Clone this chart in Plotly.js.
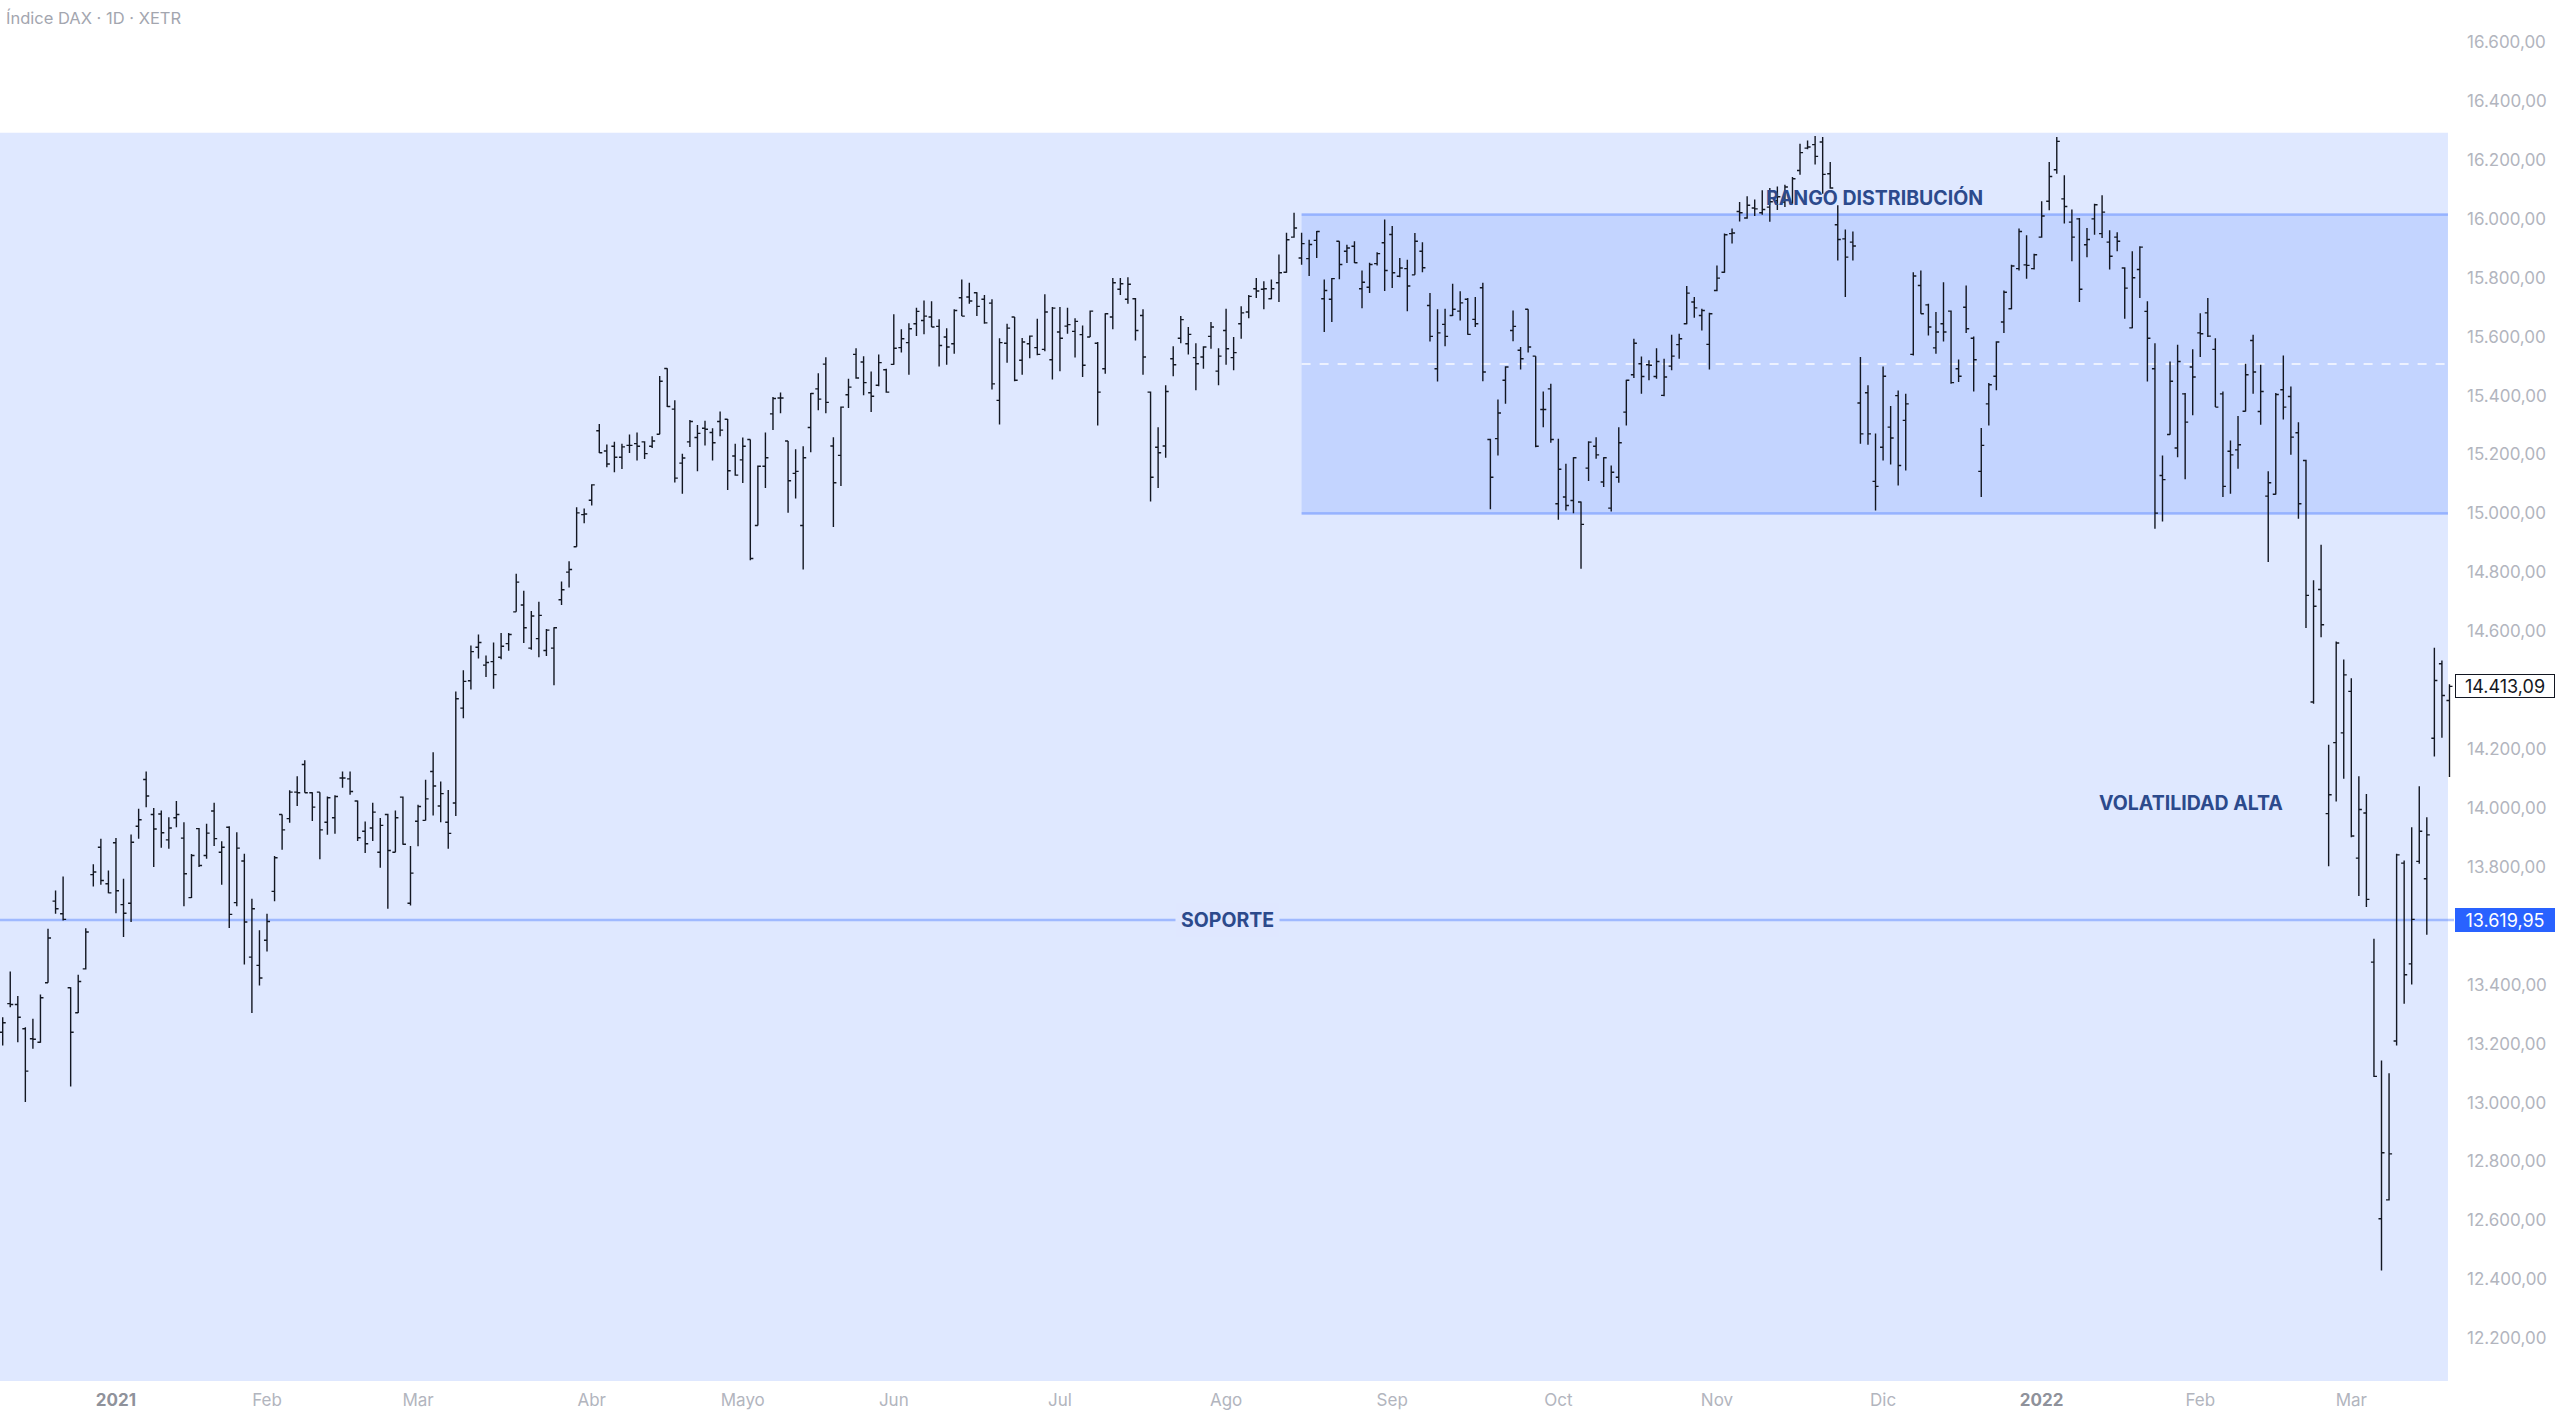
<!DOCTYPE html>
<html lang="es">
<head>
<meta charset="utf-8">
<title>Índice DAX · 1D · XETR</title>
<script src="https://cdn.plot.ly/plotly-3.0.1.min.js"></script>
<style>
  html, body { margin: 0; padding: 0; background: #ffffff; }
  #chart { width: 2560px; height: 1415px; }
</style>
</head>
<body>
<div id="chart"></div>
<script>
// XETRA closed days inside the window (weekends are skipped anyway)
const closedDays = ['2020-12-24', '2020-12-25', '2020-12-31', '2021-01-01', '2021-04-02',
  '2021-04-05', '2021-05-24', '2021-12-24', '2021-12-31'];
const firstDay = '2020-12-08';
const lastDay = '2022-03-18';

// OHLC, one row per month (Dec 2020 ... Mar 2022)
const open = [
  13239, 13336, 13333, 13251, 13217, 13205, 13407, 13684, 13641, 13390, 13305, 13454, 13774, 13867, 13743,
  13882, 13672, 13677, 13938, 14097, 13978, 13980, 13892, 13967, 13898, 13696, 13930, 13839, 13990, 13850, 13935, 13679, 13820, 13494, 13466,
  13551, 13717, 13978, 13964, 14054, 14148, 14052, 14054, 13952, 13967, 14102, 14099, 14024, 13921, 13932, 13850, 13978, 13850, 14037, 13677,
  13955, 13958, 14124, 14007, 13952, 14017, 14339, 14432, 14546, 14485, 14497, 14512, 14558, 14666, 14689, 14543, 14575, 14535, 14543, 14707, 14801, 14887, 14996,
  15045, 15281, 15212, 15228, 15191, 15231, 15237, 15243, 15228, 15269, 15492, 15354, 15171, 15243, 15258, 15289, 15275, 15312, 15320, 15195,
  15182, 15251, 14959, 15160, 15338, 15392, 15246, 15136, 14959, 15292, 15423, 15507, 15229, 15197, 15403, 15540, 15514, 15410, 15435, 15488,
  15506, 15563, 15580, 15644, 15655, 15667, 15635, 15599, 15576, 15732, 15735, 15749, 15727, 15714, 15384, 15578, 15667, 15520, 15576, 15563, 15557, 15522,
  15616, 15636, 15618, 15607, 15599, 15578, 15491, 15667, 15761, 15727, 15729, 15672, 15412, 15225, 15229, 15525, 15595, 15576, 15529, 15531, 15601, 15483,
  15621, 15529, 15644, 15684, 15763, 15761, 15729, 15783, 15819, 15938, 15867, 15865, 15927, 15729, 15727, 15924, 15890, 15907, 15763, 15768, 15848, 15919,
  15947, 15805, 15831, 15810, 15890, 15706, 15491, 15642, 15672, 15687, 15727, 15659, 15766, 15251, 15254, 15452, 15621, 15554, 15693, 15534, 15353, 15423,
  15033, 15056, 15044, 15039, 15154, 15228, 15107, 15018, 15123, 15344, 15471, 15508, 15505, 15465, 15401, 15500, 15573, 15644, 15718, 15672, 15574,
  15757, 15819, 15950, 16025, 16003, 16037, 16021, 16040, 16062, 16057, 16054, 16164, 16240, 16252, 16261, 16153, 15980, 15932, 15921, 15375, 15410, 15109,
  15225, 15293, 15400, 15316, 15540, 15774, 15708, 15562, 15644, 15687, 15491, 15700, 15595, 15143, 15372, 15466, 15650, 15695, 15831, 15844, 15831,
  15938, 16060, 16167, 16068, 15989, 16000, 15912, 16000, 15950, 15921, 15938, 15833, 15630, 15828, 15686, 15491, 15129, 15268, 15222, 15406, 15497,
  15613, 15681, 15557, 15406, 15211, 15216, 15347, 15587, 15346, 15059, 15065, 15420, 15397, 15274, 15180, 14360, 14742, 13981, 14222, 14255,
  14396, 13830, 13983, 13477, 12606, 12670, 13209, 13813, 13471, 13819, 13760, 14237, 14490, 14365
];
const high = [
  13290, 13445, 13362, 13256, 13285, 13367, 13590, 13720, 13768, 13392, 13434, 13592, 13809, 13896, 13788,
  13898, 13760, 13910, 13998, 14124, 14000, 13992, 13969, 14024, 13952, 13844, 13932, 13947, 14018, 13887, 13938, 13918, 13845, 13692, 13585,
  13641, 13837, 13978, 14060, 14108, 14162, 14054, 14054, 14039, 14043, 14124, 14124, 14026, 13954, 14018, 13966, 13981, 13992, 14039, 13871,
  14011, 14096, 14189, 14090, 14061, 14396, 14468, 14552, 14589, 14518, 14562, 14594, 14594, 14795, 14738, 14669, 14700, 14608, 14614, 14769, 14838, 15021, 15017,
  15099, 15304, 15234, 15243, 15237, 15268, 15275, 15245, 15262, 15467, 15493, 15384, 15203, 15317, 15300, 15315, 15289, 15346, 15321, 15237,
  15258, 15251, 15163, 15275, 15395, 15411, 15246, 15218, 15228, 15409, 15476, 15530, 15259, 15363, 15457, 15561, 15534, 15482, 15540, 15491,
  15676, 15625, 15646, 15698, 15723, 15720, 15659, 15629, 15693, 15794, 15783, 15751, 15742, 15727, 15595, 15644, 15667, 15596, 15604, 15661, 15744, 15701,
  15701, 15698, 15663, 15638, 15689, 15582, 15680, 15799, 15799, 15802, 15731, 15693, 15414, 15293, 15435, 15568, 15670, 15633, 15578, 15568, 15650, 15561,
  15695, 15599, 15703, 15742, 15799, 15788, 15794, 15879, 15953, 16021, 15953, 15929, 15959, 15794, 15799, 15924, 15912, 15924, 15825, 15851, 15887, 15998,
  15976, 15867, 15861, 15952, 15921, 15748, 15693, 15695, 15780, 15754, 15731, 15735, 15783, 15254, 15387, 15500, 15689, 15565, 15693, 15534, 15414, 15440,
  15254, 15169, 15191, 15041, 15245, 15259, 15191, 15163, 15293, 15454, 15593, 15533, 15520, 15561, 15525, 15607, 15610, 15772, 15735, 15695, 15681,
  15842, 15950, 15967, 16057, 16077, 16066, 16097, 16105, 16110, 16116, 16142, 16255, 16266, 16281, 16278, 16193, 16046, 15964, 15957, 15531, 15435, 15271,
  15499, 15365, 15417, 15406, 15819, 15825, 15712, 15684, 15785, 15689, 15523, 15774, 15601, 15290, 15443, 15585, 15757, 15844, 15967, 15944, 15882,
  16060, 16193, 16278, 16148, 16032, 16003, 15969, 16051, 16080, 15961, 15955, 15836, 15890, 15907, 15720, 15578, 15197, 15516, 15573, 15409, 15557,
  15680, 15731, 15595, 15414, 15248, 15331, 15508, 15607, 15505, 15143, 15409, 15536, 15431, 15310, 15182, 14773, 14894, 14215, 14565, 14504,
  14441, 14108, 14048, 13556, 13143, 13100, 13845, 13822, 13935, 14074, 13969, 14544, 14501, 14420
];
const low = [
  13194, 13324, 13205, 13002, 13183, 13203, 13407, 13641, 13618, 13055, 13304, 13452, 13734, 13740, 13711,
  13643, 13562, 13613, 13896, 14003, 13800, 13865, 13862, 13935, 13667, 13695, 13800, 13828, 13871, 13740, 13593, 13667, 13469, 13304, 13398,
  13513, 13684, 13858, 13950, 14007, 14052, 13956, 13826, 13909, 13913, 14069, 14045, 13888, 13847, 13888, 13797, 13658, 13850, 13875, 13669,
  13870, 13958, 13975, 13952, 13862, 13973, 14305, 14402, 14508, 14445, 14405, 14505, 14534, 14666, 14560, 14537, 14512, 14516, 14417, 14689, 14749, 14887, 14967,
  15027, 15205, 15157, 15140, 15151, 15205, 15180, 15185, 15222, 15269, 15361, 15105, 15067, 15226, 15143, 15231, 15180, 15262, 15080, 15128,
  15103, 14841, 14959, 15086, 15283, 15340, 15002, 15051, 14810, 15208, 15350, 15340, 14954, 15093, 15358, 15457, 15401, 15344, 15432, 15410,
  15505, 15546, 15471, 15602, 15608, 15633, 15499, 15505, 15542, 15670, 15712, 15670, 15644, 15421, 15302, 15512, 15449, 15471, 15527, 15537, 15551, 15455,
  15483, 15610, 15529, 15463, 15599, 15299, 15474, 15625, 15742, 15712, 15587, 15471, 15041, 15086, 15189, 15466, 15578, 15540, 15418, 15491, 15559, 15435,
  15505, 15486, 15593, 15663, 15731, 15693, 15727, 15718, 15817, 15936, 15844, 15806, 15867, 15616, 15650, 15795, 15850, 15850, 15697, 15748, 15842, 15755,
  15765, 15802, 15686, 15810, 15819, 15584, 15448, 15568, 15670, 15655, 15607, 15633, 15449, 15014, 15197, 15372, 15585, 15489, 15546, 15225, 15293, 15240,
  14979, 15010, 15001, 14812, 15110, 15186, 15090, 15007, 15104, 15299, 15460, 15406, 15452, 15457, 15398, 15486, 15525, 15642, 15664, 15621, 15489,
  15754, 15817, 15916, 15991, 16000, 16010, 16014, 15990, 16030, 16040, 16051, 16150, 16236, 16185, 16085, 16102, 15859, 15735, 15859, 15237, 15233, 15010,
  15180, 15166, 15095, 15146, 15536, 15678, 15604, 15542, 15584, 15440, 15446, 15613, 15414, 15056, 15299, 15418, 15613, 15693, 15825, 15797, 15828,
  15936, 16029, 16153, 15984, 15856, 15718, 15870, 15946, 15935, 15828, 15890, 15661, 15629, 15731, 15448, 14948, 14973, 15267, 15191, 15116, 15333,
  15531, 15599, 15361, 15056, 15067, 15152, 15346, 15406, 15301, 14835, 15064, 15319, 15199, 14982, 14611, 14354, 14580, 13802, 14022, 14099,
  13901, 13701, 13664, 13087, 12430, 12668, 13194, 13336, 13401, 13811, 13570, 14175, 14239, 14105
];
const close = [
  13271, 13333, 13290, 13107, 13215, 13356, 13559, 13658, 13622, 13239, 13411, 13579, 13783, 13754, 13712,
  13719, 13643, 13884, 13960, 14041, 13929, 13916, 13932, 13978, 13777, 13839, 13805, 13915, 13896, 13867, 13639, 13864, 13613, 13658, 13423,
  13615, 13831, 13926, 14054, 14052, 14052, 14003, 13926, 14035, 14039, 14102, 14056, 13899, 13879, 13986, 13941, 13856, 13967, 13877, 13779,
  14005, 14031, 14075, 14049, 13914, 14371, 14430, 14531, 14562, 14494, 14453, 14549, 14589, 14767, 14612, 14652, 14654, 14604, 14612, 14741, 14810, 15002, 14998,
  15097, 15206, 15168, 15191, 15226, 15231, 15228, 15203, 15246, 15449, 15363, 15120, 15188, 15312, 15272, 15286, 15240, 15283, 15145, 15130,
  15228, 14847, 15160, 15189, 15390, 15392, 15111, 15143, 15189, 15407, 15388, 15377, 15104, 15361, 15429, 15460, 15444, 15398, 15512, 15412,
  15561, 15593, 15627, 15686, 15670, 15633, 15570, 15565, 15689, 15670, 15721, 15703, 15647, 15440, 15580, 15629, 15452, 15582, 15602, 15540, 15684, 15697,
  15595, 15641, 15652, 15503, 15687, 15412, 15678, 15783, 15780, 15778, 15621, 15531, 15123, 15206, 15414, 15505, 15658, 15608, 15508, 15565, 15633, 15534,
  15559, 15546, 15681, 15737, 15755, 15763, 15763, 15817, 15929, 15969, 15916, 15913, 15957, 15757, 15797, 15845, 15901, 15851, 15785, 15845, 15882, 15825,
  15817, 15833, 15772, 15924, 15834, 15601, 15613, 15601, 15693, 15715, 15608, 15644, 15480, 15123, 15341, 15497, 15635, 15525, 15565, 15228, 15353, 15251,
  15150, 15027, 15189, 14963, 15242, 15199, 15189, 15140, 15240, 15452, 15578, 15465, 15503, 15516, 15463, 15534, 15593, 15748, 15698, 15689, 15678,
  15799, 15946, 15952, 16021, 16046, 16034, 16032, 16058, 16075, 16108, 16136, 16225, 16244, 16212, 16151, 16105, 15930, 15870, 15908, 15270, 15270, 15092,
  15466, 15256, 15163, 15372, 15806, 15678, 15633, 15616, 15616, 15444, 15466, 15627, 15522, 15231, 15437, 15582, 15751, 15840, 15957, 15842, 15878,
  16010, 16144, 16263, 16042, 15938, 15761, 15930, 16048, 16023, 15873, 15924, 15765, 15800, 15904, 15595, 15001, 15115, 15449, 15516, 15310, 15463,
  15610, 15602, 15361, 15092, 15199, 15233, 15471, 15480, 15414, 15104, 15404, 15361, 15259, 15033, 14722, 14685, 14622, 14045, 14560, 14452,
  13905, 13995, 13690, 13089, 12830, 12826, 13841, 13434, 13622, 13921, 13909, 14433, 14382, 14413.09
];

// time axis labels (first session of each month)
const monthStarts = ['2021-01-04', '2021-02-01', '2021-03-01', '2021-04-01', '2021-05-03', '2021-06-01',
  '2021-07-01', '2021-08-02', '2021-09-01', '2021-10-01', '2021-11-01', '2021-12-01',
  '2022-01-03', '2022-02-01', '2022-03-01'];
const monthLabels = ['2021', 'Feb', 'Mar', 'Abr', 'Mayo', 'Jun', 'Jul', 'Ago', 'Sep', 'Oct', 'Nov', 'Dic',
  '2022', 'Feb', 'Mar'];

// 13.600 and 14.400 sit under the price tags, so they are not printed
const priceTicks = [12200, 12400, 12600, 12800, 13000, 13200, 13400, 13800, 14000,
  14200, 14600, 14800, 15000, 15200, 15400, 15600, 15800, 16000, 16200, 16400, 16600];

// drawings
const bandTop = 16292;          // light zone top
const rangeTop = 16015;         // "rango distribución"
const rangeBottom = 15000;
const rangeStart = '2021-08-16';
const soporte = 13619.95;

function tradingDays(start, end, closed) {
  const out = [];
  const d = new Date(start + 'T00:00:00Z');
  const last = new Date(end + 'T00:00:00Z');
  while (d <= last) {
    const s = d.toISOString().slice(0, 10);
    const wd = d.getUTCDay();
    if (wd !== 0 && wd !== 6 && !closed.includes(s)) out.push(s);
    d.setUTCDate(d.getUTCDate() + 1);
  }
  return out;
}

// 16.600,00 style
function fmtPrice(v) {
  const [ent, dec] = v.toFixed(2).split('.');
  return ent.replace(/\B(?=(\d{3})+(?!\d))/g, '.') + ',' + dec;
}

const dates = tradingDays(firstDay, lastDay, closedDays);
const n = dates.length;
const rangeX0 = dates.indexOf(rangeStart);
const drawEnd = n - 1.2;   // drawings stop just before the last bar

const FONT = 'Inter, Roboto, "Noto Sans", sans-serif';
const BLUE_FILL = 'rgba(41,98,255,0.15)';
const BLUE_LINE = 'rgba(41,98,255,0.35)';
const TXT = '#2c4a8c';

const trace = {
  type: 'ohlc',
  x: dates,
  open, high, low, close,
  increasing: { line: { color: '#131722', width: 1.4 } },
  decreasing: { line: { color: '#131722', width: 1.4 } },
  tickwidth: 0.4,
  hoverinfo: 'skip',
  showlegend: false
};

const tickText = monthLabels.map(t => /^\d{4}$/.test(t)
  ? `<span style="color:#8f929b"><b>${t}</b></span>` : t);

const layout = {
  width: 2560,
  height: 1415,
  margin: { l: 0, r: 106, t: 0, b: 34 },
  paper_bgcolor: '#ffffff',
  plot_bgcolor: '#ffffff',
  font: { family: FONT },
  hovermode: false,
  showlegend: false,
  xaxis: {
    type: 'category',
    range: [-0.357, 324.6],
    showgrid: false, zeroline: false, showline: false, ticks: '',
    tickmode: 'array', tickvals: monthStarts, ticktext: tickText,
    tickfont: { size: 17, color: '#b2b5be', family: FONT },
    ticklabelstandoff: 7,
    rangeslider: { visible: false },
    fixedrange: true
  },
  yaxis: {
    side: 'right',
    range: [12055, 16743],
    showgrid: false, zeroline: false, showline: false, ticks: '',
    tickmode: 'array', tickvals: priceTicks, ticktext: priceTicks.map(fmtPrice),
    tickfont: { size: 17, color: '#b2b5be', family: FONT },
    ticklabelstandoff: 12,
    fixedrange: true
  },
  shapes: [
    { type: 'rect', xref: 'x', yref: 'y', x0: -2, x1: drawEnd, y0: 10000, y1: bandTop,
      fillcolor: BLUE_FILL, line: { width: 0 }, layer: 'below' },
    { type: 'rect', xref: 'x', yref: 'y', x0: rangeX0, x1: drawEnd, y0: rangeBottom, y1: rangeTop,
      fillcolor: BLUE_FILL, line: { width: 0 }, layer: 'below' },
    { type: 'line', xref: 'x', yref: 'y', x0: rangeX0, x1: drawEnd, y0: rangeTop, y1: rangeTop,
      line: { color: BLUE_LINE, width: 2.5 }, layer: 'below' },
    { type: 'line', xref: 'x', yref: 'y', x0: rangeX0, x1: drawEnd, y0: rangeBottom, y1: rangeBottom,
      line: { color: BLUE_LINE, width: 2.5 }, layer: 'below' },
    { type: 'line', xref: 'x', yref: 'y', x0: rangeX0, x1: drawEnd,
      y0: (rangeTop + rangeBottom) / 2, y1: (rangeTop + rangeBottom) / 2,
      line: { color: 'rgba(255,255,255,0.9)', width: 1.5, dash: 'dash' }, layer: 'below' },
    { type: 'line', xref: 'paper', yref: 'y', x0: 0, x1: 1, y0: soporte, y1: soporte,
      line: { color: BLUE_LINE, width: 2.5 }, layer: 'below' }
  ],
  annotations: [
    { xref: 'paper', yref: 'paper', x: 0, y: 1, xanchor: 'left', yanchor: 'top', xshift: 4, yshift: -6,
      text: 'Índice DAX · 1D · XETR', showarrow: false,
      font: { size: 16.5, color: '#a3a6af', family: FONT } },
    { xref: 'x', yref: 'y', x: (rangeX0 + drawEnd) / 2, y: rangeTop, yanchor: 'bottom', yshift: 2,
      text: '<b>RANGO DISTRIBUCIÓN</b>', showarrow: false,
      font: { size: 19.5, color: TXT, family: FONT } },
    { xref: 'paper', yref: 'y', x: 0.5, y: soporte, yanchor: 'middle',
      text: '<b>SOPORTE</b>', showarrow: false, bgcolor: '#dfe7ff', borderpad: 5,
      font: { size: 19.5, color: TXT, family: FONT } },
    { xref: 'x', yref: 'y', x: 289.8, y: 14017, yanchor: 'middle',
      text: '<b>VOLATILIDAD ALTA</b>', showarrow: false,
      font: { size: 19.5, color: TXT, family: FONT } },
    { xref: 'paper', yref: 'y', x: 1, y: close[n - 1], xanchor: 'left', yanchor: 'middle', xshift: 1,
      text: fmtPrice(close[n - 1]), showarrow: false, width: 96, height: 20, borderpad: 1,
      bgcolor: '#ffffff', bordercolor: '#131722', borderwidth: 1,
      font: { size: 18, color: '#131722', family: FONT } },
    { xref: 'paper', yref: 'y', x: 1, y: soporte, xanchor: 'left', yanchor: 'middle', xshift: 1,
      text: fmtPrice(soporte), showarrow: false, width: 96, height: 20, borderpad: 1,
      bgcolor: '#2962ff', bordercolor: '#2962ff', borderwidth: 1,
      font: { size: 18, color: '#ffffff', family: FONT } }
  ]
};

Plotly.newPlot('chart', [trace], layout, { displayModeBar: false, staticPlot: true });
</script>
</body>
</html>
